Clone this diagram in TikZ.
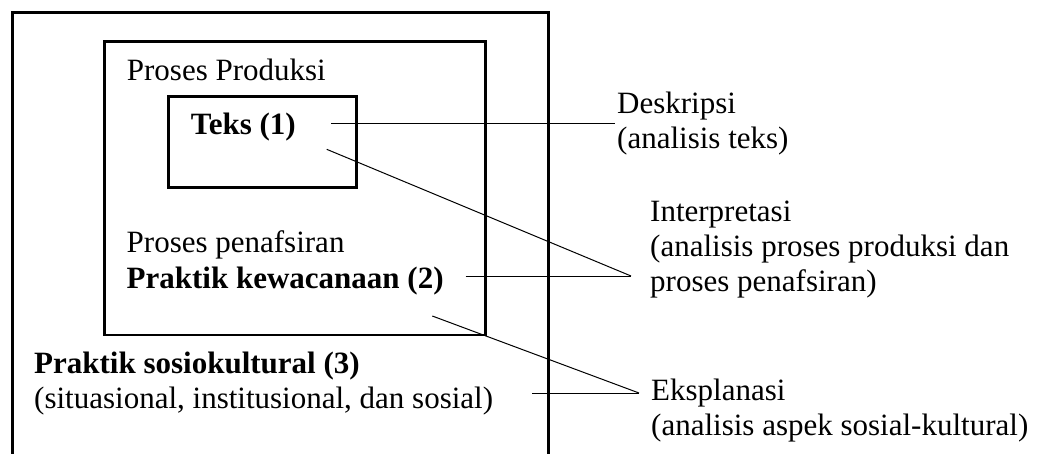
\documentclass[tikz,border=0pt]{standalone}
\usepackage{fontspec}
\setmainfont{Liberation Serif}
\begin{document}
\begin{tikzpicture}[x=1pt,y=-1pt,
  frame/.style={draw=black,line width=2.8pt},
  txt/.style={anchor=base west,inner sep=0pt,font=\fontsize{31}{35}\selectfont},
  btxt/.style={txt,font=\fontsize{31}{35}\selectfont\bfseries},
  conn/.style={draw=black,line width=1pt}]
\useasboundingbox (0,0) rectangle (1038,454);
% outer frame (open at bottom)
\coordinate (o1) at (12.3,460);
\coordinate (o2) at (12.3,12.7);
\coordinate (o3) at (548.3,12.7);
\coordinate (o4) at (548.3,460);
\draw[frame] (o1) -- (o2) -- (o3) -- (o4);
% middle box
\node[frame,inner sep=0pt,minimum width=381.4pt,minimum height=293.3pt] (mid) at (295.1,188.35) {};
% text box
\node[frame,inner sep=0pt,minimum width=188pt,minimum height=91pt] (teksbox) at (262.7,142.2) {};
% texts left
\node[txt]  (t1) at (126.7,81)    {Proses Produksi};
\node[btxt] (t2) at (190.7,135)   {Teks (1)};
\node[txt]  (t3) at (126.5,252.3) {Proses penafsiran};
\node[btxt] (t4) at (126.5,288.3) {Praktik kewacanaan (2)};
\node[btxt] (t5) at (34,373.3)    {Praktik sosiokultural (3)};
\node[txt]  (t6) at (34,408.3)    {(situasional, institusional, dan sosial)};
% texts right
\node[txt] (r1) at (617,113.3) {Deskripsi};
\node[txt] (r2) at (617,148.3) {(analisis teks)};
\node[txt] (r3) at (650,221.7) {Interpretasi};
\node[txt] (r4) at (650,256.7) {(analisis proses produksi dan};
\node[txt] (r5) at (650,291.7) {proses penafsiran)};
\node[txt] (r6) at (651,400)   {Eksplanasi};
\node[txt] (r7) at (651,435)   {(analisis aspek sosial-kultural)};
% connector end points
\coordinate (a1) at (331,123.3);
\coordinate (b1) at (615,123.3);
\coordinate (a2) at (326.7,149.3);
\coordinate (a3) at (465.7,276);
\coordinate (b2) at (631,276);
\coordinate (a4) at (432.3,316);
\coordinate (a5) at (532,393);
\coordinate (b3) at (639,393);
\draw[conn] (a1) -- (b1);
\draw[conn] (a2) -- (b2);
\draw[conn] (a3) -- (b2);
\draw[conn] (a4) -- (b3);
\draw[conn] (a5) -- (b3);
\end{tikzpicture}
\end{document}
